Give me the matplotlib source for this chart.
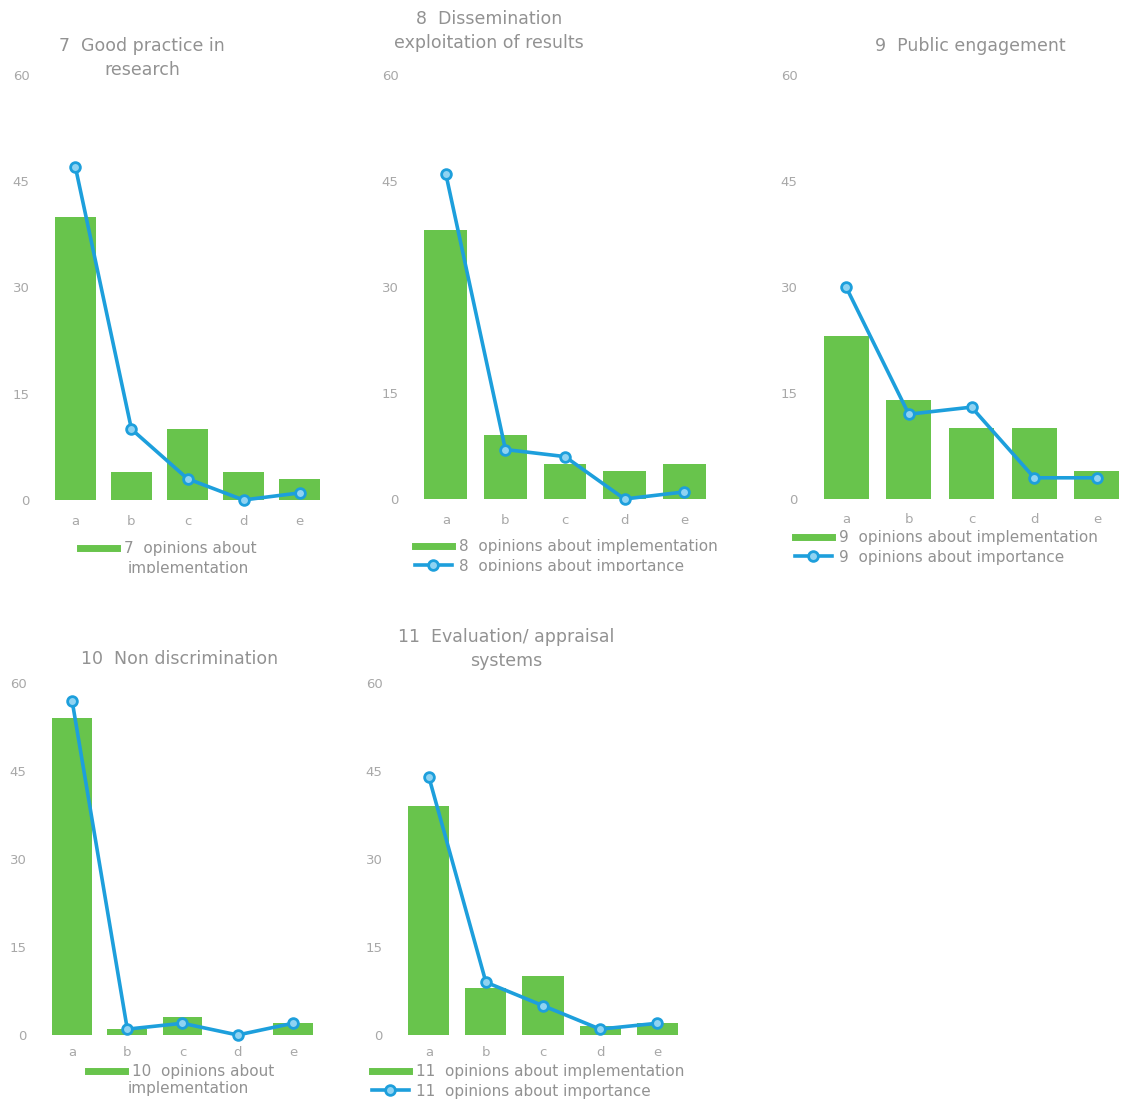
import matplotlib
matplotlib.use("Agg")
import matplotlib.pyplot as plt
from matplotlib.lines import Line2D
from matplotlib.transforms import Bbox

plt.rcParams['font.family'] = ['DejaVu Sans']

categories = ['a', 'b', 'c', 'd', 'e']

titles = [
    "7  Good practice in\nresearch",
    "8  Dissemination\nexploitation of results",
    "9  Public engagement",
    "10  Non discrimination",
    "11  Evaluation/ appraisal\nsystems",
]

implementation_7 = [40, 4, 10, 4, 3]
importance_7 = [47, 10, 3, 0, 1]
implementation_8 = [38, 9, 5, 4, 5]
importance_8 = [46, 7, 6, 0, 1]
implementation_9 = [23, 14, 10, 10, 4]
importance_9 = [30, 12, 13, 3, 3]
implementation_10 = [54, 1, 3, 0, 2]
importance_10 = [57, 1, 2, 0, 2]
implementation_11 = [39, 8, 10, 1.5, 2]
importance_11 = [44, 9, 5, 1, 2]

# legend labels; wrapped ones carry their second line separately
legend_impl = [
    ("7  opinions about", "implementation"),
    ("8  opinions about implementation", None),
    ("9  opinions about implementation", None),
    ("10  opinions about", "implementation"),
    ("11  opinions about implementation", None),
]
legend_imp = [
    None,
    "8  opinions about importance",
    "9  opinions about importance",
    None,
    "11  opinions about importance",
]

yticks = [0, 15, 30, 45, 60]

GREEN = '#68c44c'
BLUE = '#1d9fdc'
LIGHTBLUE = '#8fd3f2'
TITLE_C = '#929292'
TICK_C = '#a8a8a8'

W, H = 1128, 1101
fig = plt.figure(figsize=(W / 100, H / 100), dpi=100)


def rect(x0, y0, x1, y1):
    # pixel box (top-left origin) -> figure fraction
    return [x0 / W, 1 - y1 / H, (x1 - x0) / W, (y1 - y0) / H]


# axes boxes in pixels, title position, legend anchor, legend clip line
panels = [
    dict(box=(53, 75, 322, 500), tpos=(142, 37), lpos=(80, 541), wrap=(128, 568), clip=573, xpad=11),
    dict(box=(422, 75, 708, 499), tpos=(489, 10), lpos=(415, 539), clip=571, xpad=11),
    dict(box=(821, 75, 1122, 499), tpos=(970, 37), lpos=(795, 530), clip=None, xpad=10),
    dict(box=(50, 683, 315, 1035), tpos=(180, 650), lpos=(88, 1064), wrap=(128, 1089), clip=None, xpad=8),
    dict(box=(406, 683, 680, 1035), tpos=(506, 628), lpos=(372, 1064), clip=None, xpad=8),
]

impl_all = [implementation_7, implementation_8, implementation_9, implementation_10, implementation_11]
imp_all = [importance_7, importance_8, importance_9, importance_10, importance_11]

for i, p in enumerate(panels):
    ax = fig.add_axes(rect(*p['box']))
    x = range(len(categories))
    ax.bar(x, impl_all[i], width=0.72, color=GREEN, zorder=2)
    ax.plot(x, imp_all[i], color=BLUE, lw=2.6, marker='o', ms=7,
            mfc=LIGHTBLUE, mec=BLUE, mew=2, zorder=3, clip_on=False)
    ax.set_ylim(0, 60)
    ax.set_xlim(-0.4, 4.4)
    ax.set_yticks(yticks)
    ax.set_xticks(list(x))
    ax.set_xticklabels(categories)
    for s in ax.spines.values():
        s.set_visible(False)
    ax.tick_params(axis='both', length=0, colors=TICK_C, labelsize=9.5)
    ax.tick_params(axis='y', pad=17)
    ax.tick_params(axis='x', pad=p['xpad'])

    fig.text(p['tpos'][0] / W, 1 - p['tpos'][1] / H, titles[i], ha='center', va='top',
             color=TITLE_C, fontsize=12.5, linespacing=1.4, multialignment='center')

    handles = [Line2D([], [], color=GREEN, lw=5)]
    labels = [legend_impl[i][0]]
    if legend_imp[i]:
        handles.append(Line2D([], [], color=BLUE, lw=2.6, marker='o', ms=7,
                              mfc=LIGHTBLUE, mec=BLUE, mew=2))
        labels.append(legend_imp[i])
    leg = ax.legend(handles, labels, loc='upper left',
                    bbox_to_anchor=(p['lpos'][0] / W, 1 - p['lpos'][1] / H),
                    bbox_transform=fig.transFigure, frameon=False, fontsize=11,
                    handlelength=2.4, handletextpad=0.45, labelspacing=0.3,
                    borderaxespad=0, borderpad=0)
    extra = []
    for t in leg.get_texts():
        t.set_color(TITLE_C)
    if legend_impl[i][1]:
        wx, wy = p['wrap']
        extra.append(fig.text(wx / W, 1 - wy / H, legend_impl[i][1], ha='left',
                              va='center', color=TITLE_C, fontsize=11))
    if p['clip'] is not None:
        cb = Bbox.from_extents(0, H - p['clip'], W, H)
        for a in list(leg.get_texts()) + list(leg.legend_handles) + extra:
            a.set_clip_box(cb)
            a.set_clip_on(True)

fig.savefig('out.png', dpi=100, facecolor='white')
